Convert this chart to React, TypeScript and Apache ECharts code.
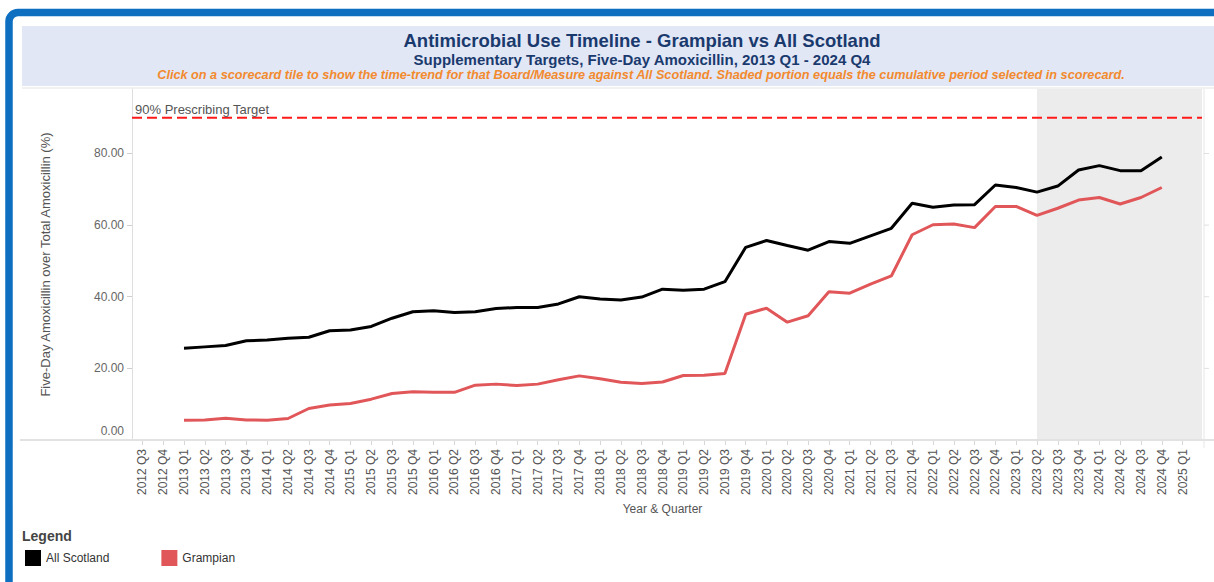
import React, { useEffect, useRef } from "react";
import * as echarts from "echarts";

const quarters: string[] = [
  "2012 Q3", "2012 Q4",
  "2013 Q1", "2013 Q2", "2013 Q3", "2013 Q4",
  "2014 Q1", "2014 Q2", "2014 Q3", "2014 Q4",
  "2015 Q1", "2015 Q2", "2015 Q3", "2015 Q4",
  "2016 Q1", "2016 Q2", "2016 Q3", "2016 Q4",
  "2017 Q1", "2017 Q2", "2017 Q3", "2017 Q4",
  "2018 Q1", "2018 Q2", "2018 Q3", "2018 Q4",
  "2019 Q1", "2019 Q2", "2019 Q3", "2019 Q4",
  "2020 Q1", "2020 Q2", "2020 Q3", "2020 Q4",
  "2021 Q1", "2021 Q2", "2021 Q3", "2021 Q4",
  "2022 Q1", "2022 Q2", "2022 Q3", "2022 Q4",
  "2023 Q1", "2023 Q2", "2023 Q3", "2023 Q4",
  "2024 Q1", "2024 Q2", "2024 Q3", "2024 Q4",
  "2025 Q1",
];

// 2013 Q1 .. 2024 Q4
const allScotland: number[] = [
  25.6, 26.0, 26.4, 27.7, 27.9, 28.4, 28.7, 30.5, 30.7, 31.7, 34.0, 35.8,
  36.1, 35.6, 35.8, 36.7, 37.0, 37.0, 38.0, 40.0, 39.4, 39.1, 39.9, 42.1,
  41.8, 42.1, 44.2, 53.8, 55.7, 54.3, 53.0,
  55.4, 54.9, 57.0, 59.1, 66.1, 65.0, 65.6, 65.7, 71.2, 70.5, 69.2, 70.9,
  75.4, 76.6, 75.2, 75.2, 79.0,
];

const grampian: number[] = [
  5.5, 5.6, 6.1, 5.6, 5.5, 6.0, 8.8, 9.8, 10.2, 11.4, 13.0, 13.5,
  13.3, 13.3, 15.3, 15.6, 15.2, 15.6, 16.8, 17.9, 17.1, 16.1, 15.8, 16.2,
  18.0, 18.1, 18.6, 35.1, 36.8, 32.9, 34.7,
  41.4, 41.0, 43.5, 45.8, 57.3, 60.1, 60.3, 59.3, 65.2, 65.2, 62.7, 64.7,
  67.0, 67.7, 65.9, 67.7, 70.5,
];

const leadingEmpty = 2; // 2012 Q3, 2012 Q4
const trailingEmpty = 1; // 2025 Q1
const targetValue = 90;
const targetLabel = "90% Prescribing Target";
const shadedStart = "2023 Q2";
const yTicks = [0, 20, 40, 60, 80];
const yMax = 98;

const titleText = "Antimicrobial Use Timeline - Grampian vs All Scotland";
const subtitleText = "Supplementary Targets, Five-Day Amoxicillin, 2013 Q1 - 2024 Q4";
const noteText =
  "Click on a scorecard tile to show the time-trend for that Board/Measure against All Scotland. Shaded portion equals the cumulative period selected in scorecard.";

const pad = (arr: number[]) => [
  ...Array(leadingEmpty).fill(null),
  ...arr,
  ...Array(trailingEmpty).fill(null),
];

const FONT = "'Liberation Sans', Arial, sans-serif";

export default function App() {
  const ref = useRef<HTMLDivElement>(null);

  useEffect(() => {
    if (!ref.current) return;
    const chart = echarts.init(ref.current, null, { renderer: "svg" });
    const option: any = {
      animation: false,
      backgroundColor: "#ffffff",
      textStyle: { fontFamily: FONT },
      grid: { left: 132, top: 89, width: 1061, height: 351, containLabel: false },
      legend: {
        left: 25,
        top: 550,
        padding: 0,
        icon: "rect",
        itemWidth: 16,
        itemHeight: 16,
        itemGap: 52,
        textStyle: { fontSize: 12, color: "#333", fontFamily: FONT },
        data: ["All Scotland", "Grampian"],
      },
      xAxis: {
        type: "category",
        data: quarters,
        boundaryGap: true,
        axisLine: { show: true, lineStyle: { color: "#e2e2e2", width: 2 } },
        axisTick: { show: true, alignWithLabel: true, length: 5, lineStyle: { color: "#d8d8d8" } },
        axisLabel: {
          interval: 0,
          rotate: 90,
          fontSize: 12,
          color: "#555",
          margin: 9,
          fontFamily: FONT,
        },
        name: "Year & Quarter",
        nameLocation: "middle",
        nameGap: 62,
        nameTextStyle: { fontSize: 12, color: "#555", fontFamily: FONT },
        splitLine: { show: false },
      },
      yAxis: {
        type: "value",
        min: 0,
        max: yMax,
        interval: 20,
        axisLine: { show: true, lineStyle: { color: "#dedede" } },
        axisTick: { show: true, length: 5, lineStyle: { color: "#cfcfcf" } },
        axisLabel: {
          showMaxLabel: false,
          fontSize: 12,
          color: "#666",
          margin: 8,
          fontFamily: FONT,
          formatter: (v: number) =>
            v === 0 ? "{low|" + v.toFixed(2) + "}" : yTicks.includes(v) ? v.toFixed(2) : "",
          rich: {
            low: { fontSize: 12, color: "#666", fontFamily: FONT, padding: [0, 0, 18, 0] },
          },
        },
        splitLine: { show: false },
        name: "Five-Day Amoxicillin over Total Amoxicillin (%)",
        nameLocation: "middle",
        nameRotate: 90,
        nameGap: 80,
        nameTextStyle: { fontSize: 13, color: "#555", fontFamily: FONT },
      },
      series: [
        {
          name: "All Scotland",
          type: "line",
          data: pad(allScotland),
          showSymbol: false,
          connectNulls: false,
          lineStyle: { color: "#000000", width: 3 },
          itemStyle: { color: "#000000" },
          z: 4,
        },
        {
          name: "Grampian",
          type: "line",
          data: pad(grampian),
          showSymbol: false,
          connectNulls: false,
          lineStyle: { color: "#e15759", width: 3 },
          itemStyle: { color: "#e15759" },
          z: 3,
        },
      ],
    };
    chart.setOption(option);

    const yTop = chart.convertToPixel({ yAxisIndex: 0 }, yMax) as number;
    const y0 = chart.convertToPixel({ yAxisIndex: 0 }, 0) as number;
    const yT = chart.convertToPixel({ yAxisIndex: 0 }, targetValue) as number;
    const xShade = chart.convertToPixel({ xAxisIndex: 0 }, shadedStart) as number;
    const plotLeft = 132;
    const plotRight = 1202;

    chart.setOption({
      graphic: [
        {
          type: "rect",
          z: 100,
          silent: true,
          shape: { x: 9, y: 12.5, width: 1400, height: 800, r: 9 },
          style: { fill: "none", stroke: "#0e6fc1", lineWidth: 7.5 },
        },
        {
          type: "rect",
          z: 1,
          silent: true,
          shape: { x: 22, y: 26, width: 1200, height: 60 },
          style: { fill: "#e2e7f6" },
        },
        {
          type: "text",
          z: 2,
          style: {
            x: 642, y: 40, text: titleText, textAlign: "center", textVerticalAlign: "middle",
            fill: "#1a3a6e", font: `bold 18.5px ${FONT}`,
          },
        },
        {
          type: "text",
          z: 2,
          style: {
            x: 642, y: 59, text: subtitleText, textAlign: "center", textVerticalAlign: "middle",
            fill: "#1a3a6e", font: `bold 15px ${FONT}`,
          },
        },
        {
          type: "text",
          z: 2,
          style: {
            x: 641, y: 75, text: noteText, textAlign: "center", textVerticalAlign: "middle",
            fill: "#f28a2e", font: `italic bold 12.7px ${FONT}`,
          },
        },
        {
          type: "line",
          z: 1,
          silent: true,
          shape: { x1: 22, y1: 88, x2: 1214, y2: 88 },
          style: { stroke: "#e4e4e4", lineWidth: 1 },
        },
        {
          type: "rect",
          z: -1,
          silent: true,
          shape: { x: xShade, y: yTop, width: plotRight - xShade, height: y0 - yTop },
          style: { fill: "#ececec" },
        },
        {
          type: "line",
          z: 1,
          silent: true,
          shape: { x1: 20, y1: y0, x2: 1214, y2: y0 },
          style: { stroke: "#e2e2e2", lineWidth: 2 },
        },
        {
          type: "line",
          z: 1,
          silent: true,
          shape: { x1: plotRight + 2, y1: yTop, x2: plotRight + 2, y2: y0 + 8 },
          style: { stroke: "#e6e6e6", lineWidth: 1 },
        },
        ...yTicks.slice(1).map((t) => {
          const yy = chart.convertToPixel({ yAxisIndex: 0 }, t) as number;
          return {
            type: "line",
            z: 1,
            silent: true,
            shape: { x1: plotRight + 2, y1: yy, x2: plotRight + 7, y2: yy },
            style: { stroke: "#e0e0e0", lineWidth: 1 },
          };
        }),
        {
          type: "line",
          z: 10,
          silent: true,
          shape: { x1: plotLeft, y1: yT, x2: plotRight, y2: yT },
          style: { stroke: "#ff1a1a", lineWidth: 2, lineDash: [10, 5] },
        },
        {
          type: "text",
          z: 10,
          style: {
            x: plotLeft + 3, y: yT - 8, text: targetLabel, textAlign: "left", textVerticalAlign: "middle",
            fill: "#555", font: `13px ${FONT}`,
          },
        },
        {
          type: "text",
          z: 10,
          style: {
            x: 22, y: 536, text: "Legend", textAlign: "left", textVerticalAlign: "middle",
            fill: "#444", font: `bold 14px ${FONT}`,
          },
        },
      ],
    });

    return () => chart.dispose();
  }, []);

  return (
    <div
      ref={ref}
      style={{ position: "fixed", left: 0, top: 0, width: 1214, height: 582, background: "#fff" }}
    />
  );
}
